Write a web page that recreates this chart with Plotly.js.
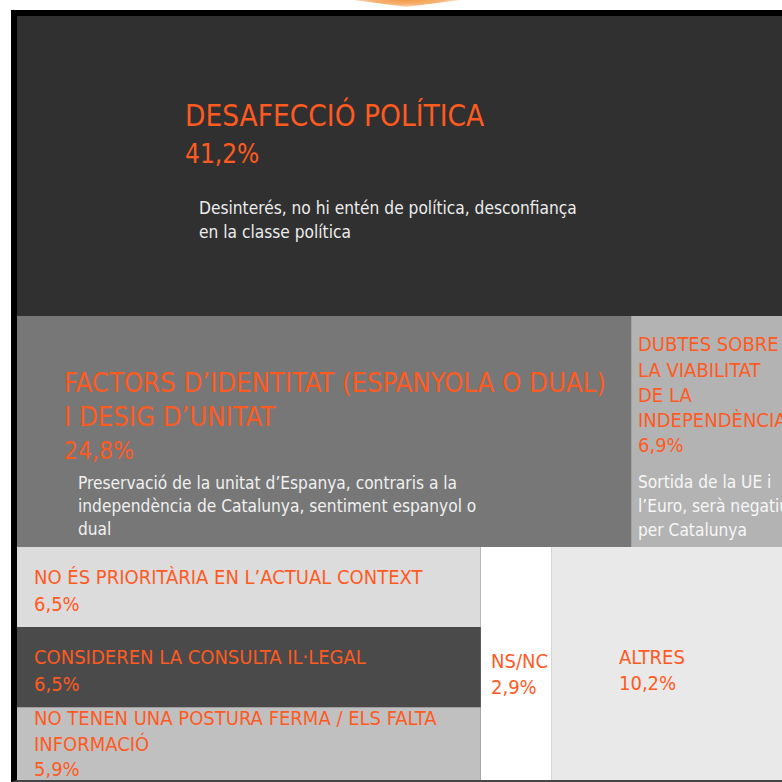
<!DOCTYPE html>
<html>
<head>
<meta charset="utf-8">
<script src="https://cdn.plot.ly/plotly-3.0.1.min.js"></script>
<style>
  html, body { margin: 0; padding: 0; width: 782px; height: 782px; overflow: hidden; background: #ffffff; }
  #frame { position: absolute; left: 11px; top: 10px; width: 785px; height: 764px;
           border-left: 6px solid #000; border-top: 6px solid #000; border-bottom: 2px solid #454545; }
  #chart { position: absolute; left: 0; top: 0; width: 785px; height: 764px; }
  #arrow { position: absolute; left: 353px; top: 0; width: 107px; height: 7px;
           background: radial-gradient(ellipse at 50% 0%, #f39c45 0%, #f6b272 45%, rgba(255,255,255,0) 85%);
           clip-path: polygon(0 0, 100% 0, 50% 100%); }
</style>
</head>
<body>
<div id="arrow"></div>
<div id="frame"><div id="chart"></div></div>
<script>
// ---- data ----
const categories = [
  "DESAFECCIÓ POLÍTICA",
  "FACTORS D’IDENTITAT (ESPANYOLA O DUAL)<br>I DESIG D’UNITAT",
  "DUBTES SOBRE<br>LA VIABILITAT<br>DE LA<br>INDEPENDÈNCIA",
  "NO ÉS PRIORITÀRIA EN L’ACTUAL CONTEXT",
  "CONSIDEREN LA CONSULTA IL·LEGAL",
  "NO TENEN UNA POSTURA FERMA / ELS FALTA<br>INFORMACIÓ",
  "NS/NC",
  "ALTRES"
];
const shares = [41.2, 24.8, 6.9, 6.5, 6.5, 5.9, 2.9, 10.2];
const descriptions = [
  "Desinterés, no hi entén de política, desconfiança<br>en la classe política",
  "Preservació de la unitat d’Espanya, contraris a la<br>independència de Catalunya, sentiment espanyol o<br>dual",
  "Sortida de la UE i<br>l’Euro, serà negatiu<br>per Catalunya",
  "", "", "", "", ""
];
const groupOf = ["root", "row2", "row2", "stack", "stack", "stack", "row3", "row3"];
const groupIds = ["root", "row2", "row3", "stack"];
const groupParents = ["", "root", "root", "row3"];

// ---- styles ----
const cellColors = ["#303030", "#777777", "#b3b3b3", "#dcdcdc", "#4a4a4a", "#c0c0c0", "#ffffff", "#e9e9e9"];
const groupColor = "#303030";
const ORANGE = "#ff5a1f";
const FONT = "'DejaVu Sans Condensed', 'Liberation Sans Narrow', sans-serif";

// ---- build hierarchy in display order ----
const ids = [], parents = [], values = [], colors = [];
const inserted = {};
function ensureGroup(g) {
  if (inserted[g]) return;
  const k = groupIds.indexOf(g);
  if (groupParents[k]) ensureGroup(groupParents[k]);
  ids.push(g); parents.push(groupParents[k]); values.push(0); colors.push(groupColor);
  inserted[g] = true;
}
categories.forEach((c, i) => {
  ensureGroup(groupOf[i]);
  ids.push("c" + i); parents.push(groupOf[i]); values.push(shares[i]); colors.push(cellColors[i]);
});

const trace = {
  type: "treemap",
  ids: ids, parents: parents, values: values,
  labels: ids,
  branchvalues: "remainder",
  sort: false,
  textinfo: "none",
  hoverinfo: "skip",
  tiling: { packing: "dice-slice", pad: 0 },
  pathbar: { visible: false },
  marker: { colors: colors, line: { width: 0 }, pad: { t: 0, l: 0, r: 0, b: 0 } },
  leaf: { opacity: 1 },
  domain: { x: [0, 1], y: [0, 1] }
};

// ---- text placement (pixel positions within the chart frame) ----
const W = 785, H = 764, OX = 17, OY = 16;
const px = x => (x - OX) / W;
const py = y => 1 - (y - OY) / H;
const spec = [
  { x: 185, tY: 115.5, tStep: 0,    tSize: 29.5, pY: 154,   pSize: 26,   dX: 199, dY: 208, dStep: 24,   dSize: 17.2, dColor: "#ececec" },
  { x: 64,  tY: 382,   tStep: 34,   tSize: 27.2, pY: 451,   pSize: 24.5, dX: 78,  dY: 483, dStep: 23,   dSize: 17.2, dColor: "#f0f0f0" },
  { x: 638, tY: 344.3, tStep: 25.2, tSize: 20,   pY: 445,   pSize: 20,   dX: 638, dY: 482, dStep: 23.8, dSize: 17.2, dColor: "#f7f7f7" },
  { x: 34,  tY: 576.5, tStep: 0,    tSize: 20,   pY: 603.5, pSize: 20 },
  { x: 34,  tY: 656.5, tStep: 0,    tSize: 20,   pY: 684,   pSize: 20 },
  { x: 34,  tY: 718,   tStep: 26,   tSize: 20,   pY: 769,   pSize: 20 },
  { x: 491, tY: 661,   tStep: 0,    tSize: 20,   pY: 686.7, pSize: 20 },
  { x: 619, tY: 656.5, tStep: 0,    tSize: 20,   pY: 682.5, pSize: 20 }
];
const annotations = [];
function addLine(text, x, y, size, color) {
  annotations.push({
    text: text, x: px(x - 2), y: py(y), xref: "paper", yref: "paper",
    xanchor: "left", yanchor: "middle", showarrow: false, align: "left",
    font: { family: FONT, size: size, color: color }
  });
}
categories.forEach((c, i) => {
  const s = spec[i];
  c.split("<br>").forEach((line, j) => addLine(line, s.x, s.tY + j * s.tStep, s.tSize, ORANGE));
  addLine(shares[i].toFixed(1).replace(".", ",") + "%", s.x, s.pY, s.pSize, ORANGE);
  if (descriptions[i]) {
    descriptions[i].split("<br>").forEach((line, j) => addLine(line, s.dX, s.dY + j * s.dStep, s.dSize, s.dColor));
  }
});

const layout = {
  width: W, height: H,
  margin: { l: 0, r: 0, t: 0, b: 0 },
  paper_bgcolor: "#303030",
  showlegend: false,
  annotations: annotations
};
Plotly.newPlot("chart", [trace], layout, { displayModeBar: false, staticPlot: true });
</script>
</body>
</html>
